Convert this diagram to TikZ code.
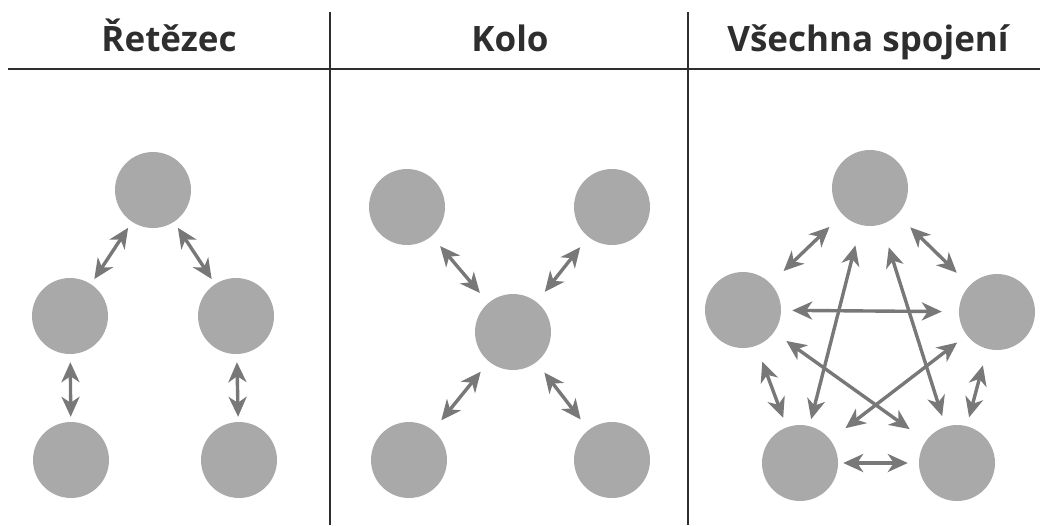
\documentclass[tikz,border=0pt]{standalone}
\usepackage{fontspec}
\setmainfont{Open Sans}
\usetikzlibrary{arrows.meta}
\definecolor{ballgray}{HTML}{A9A9A9}
\definecolor{arrgray}{HTML}{787878}
\definecolor{inkgray}{HTML}{2E2E2E}
\tikzset{
  ball/.style={circle, fill=ballgray, inner sep=0pt, minimum size=76pt},
  link/.style={draw=arrgray, line width=3.4pt,
    {Stealth[length=20pt,width=18pt,inset=6pt]}-{Stealth[length=20pt,width=18pt,inset=6pt]}},
  gap/.style 2 args={shorten <=#1pt, shorten >=#2pt},
  title/.style={anchor=base, text=inkgray, font=\bfseries\fontsize{35}{40}\selectfont},
  rule/.style={draw=inkgray, line width=1.6pt}
}
\begin{document}
\begin{tikzpicture}[x=1pt,y=-1pt]
\useasboundingbox (0,0) rectangle (1040,525);
% frame lines
\coordinate (hl) at (8,69);
\coordinate (hr) at (1040,69);
\coordinate (v1t) at (330,12);
\coordinate (v1b) at (330,525);
\coordinate (v2t) at (688,12);
\coordinate (v2b) at (688,525);
\draw[rule, line width=2.6pt] (hl) -- (hr);
\draw[rule] (v1t) -- (v1b);
\draw[rule] (v2t) -- (v2b);
% titles
\node[title] (t1) at (169,51) {Řetězec};
\node[title] (t2) at (510,51) {Kolo};
\node[title] (t3) at (868,51) {Všechna spojení};
% panel 1
\node[ball] (a1) at (153,190) {};
\node[ball] (a2) at (70,316) {};
\node[ball] (a3) at (236,316) {};
\node[ball] (a4) at (71,460) {};
\node[ball] (a5) at (239,460) {};
\draw[link, gap={7}{6}] (a1) -- (a2);
\draw[link, gap={7}{6}] (a1) -- (a3);
\draw[link, gap={8}{5}] (a2) -- (a4);
\draw[link, gap={8}{5}] (a3) -- (a5);
% panel 2
\node[ball] (b1) at (407,207) {};
\node[ball] (b2) at (612,207) {};
\node[ball] (b0) at (513,332) {};
\node[ball] (b3) at (409,460) {};
\node[ball] (b4) at (612,460) {};
\draw[link, gap={13}{13}] (b1) -- (b0);
\draw[link, gap={13}{13}] (b2) -- (b0);
\draw[link, gap={13}{13}] (b0) -- (b3);
\draw[link, gap={13}{13}] (b0) -- (b4);
% panel 3
\node[ball] (c1) at (870,188) {};
\node[ball] (c2) at (743,310) {};
\node[ball] (c3) at (997,312) {};
\node[ball] (c4) at (800,463) {};
\node[ball] (c5) at (957,463) {};
\draw[link, gap={18}{18}] (c1) -- (c2);
\draw[link, gap={18}{18}] (c1) -- (c3);
\draw[link, gap={21}{7}] (c1) -- (c4);
\draw[link, gap={24}{11}] (c1) -- (c5);
\draw[link, gap={11}{17}] (c2) -- (c3);
\draw[link, gap={15}{20}] (c2) -- (c5);
\draw[link, gap={12}{19}] (c3) -- (c4);
\draw[link, gap={17}{10}] (c2) -- (c4);
\draw[link, gap={17}{9}] (c3) -- (c5);
\draw[link, gap={5}{11}] (c4) -- (c5);
\end{tikzpicture}
\end{document}
